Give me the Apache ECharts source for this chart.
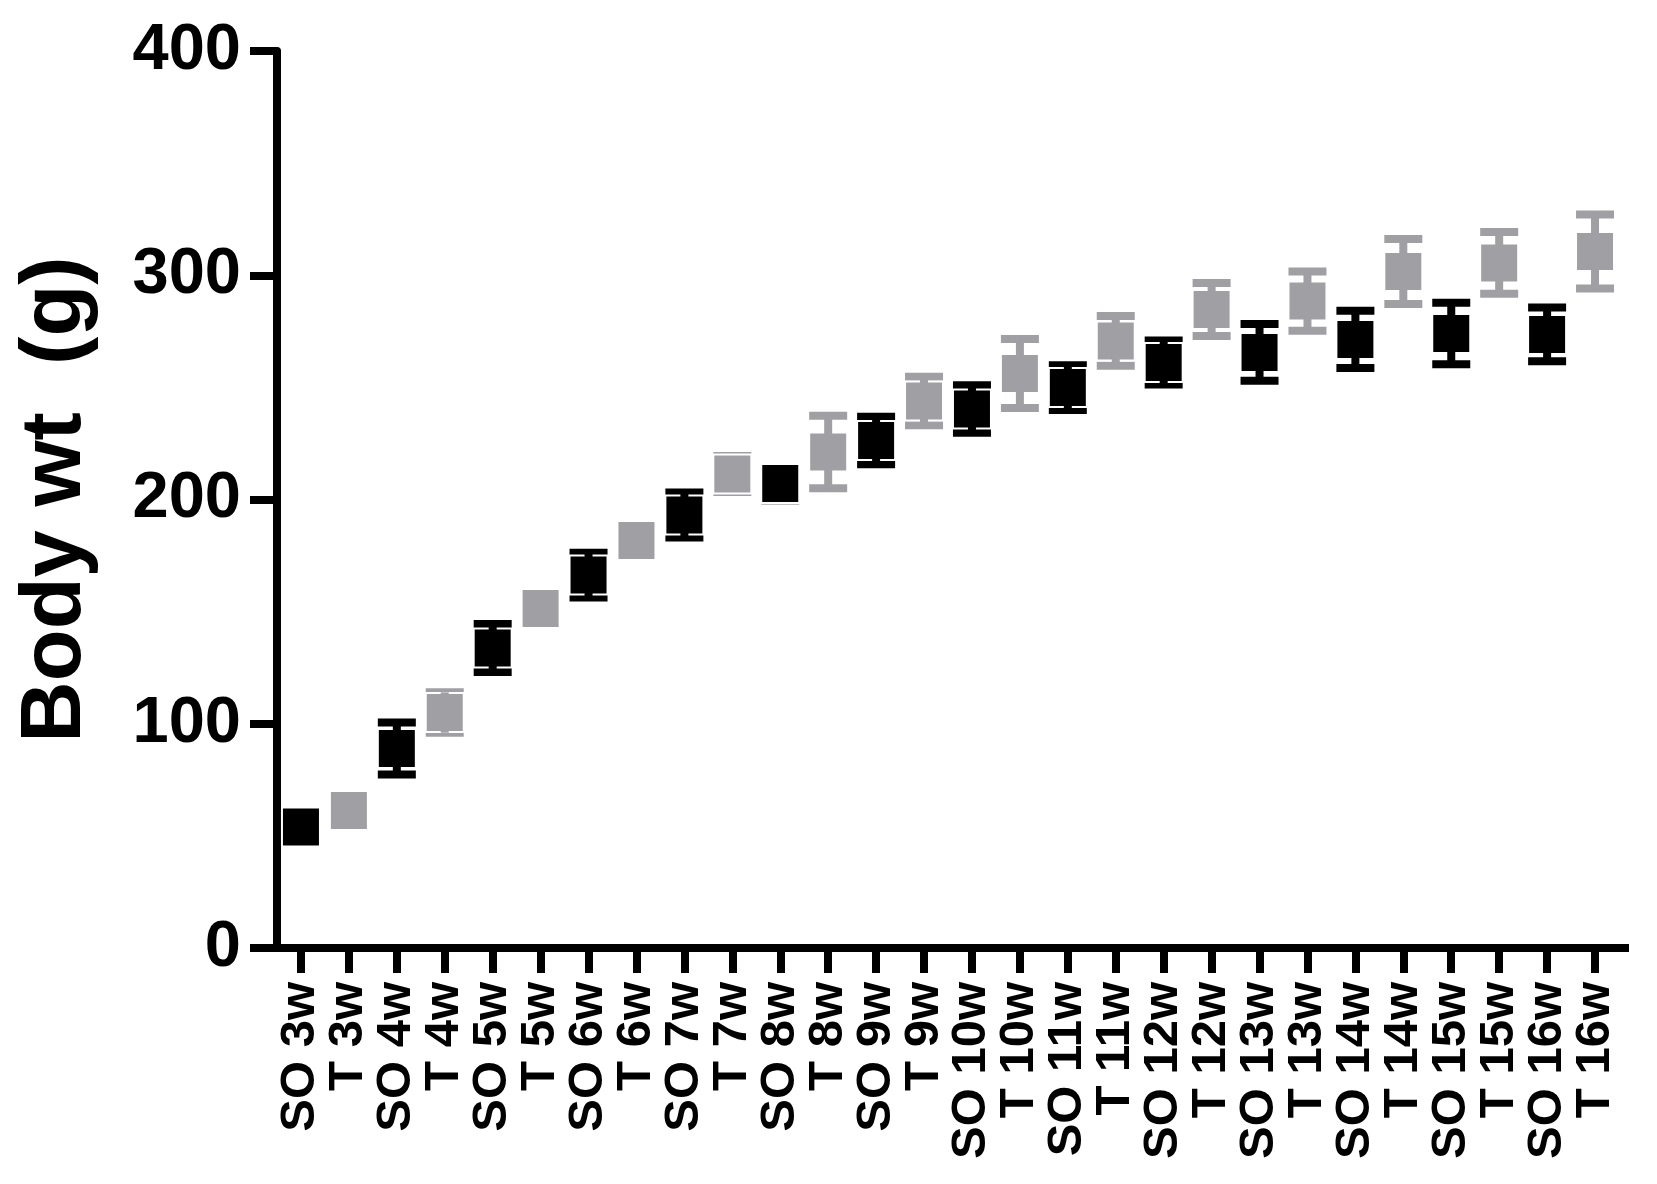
<!DOCTYPE html>
<html>
<head>
<meta charset="utf-8">
<script src="https://cdn.jsdelivr.net/npm/echarts@6/dist/echarts.min.js"></script>
<style>
html,body{margin:0;padding:0;background:#fff;}
#chart{width:1657px;height:1184px;}
</style>
</head>
<body>
<div id="chart"></div>
<script>
// weeks and the two groups (SO / T)
var weeks = [3,4,5,6,7,8,9,10,11,12,13,14,15,16];
var categories = [];
weeks.forEach(function(w){
    categories.push('SO ' + w + 'w');
    categories.push('T ' + w + 'w');
});

var soMean = [54.0, 89.0, 133.8, 166.3, 193.1, 207.1, 226.3, 240.4, 249.9, 261.1, 265.6, 271.4, 274.0, 273.6];
var soSd   = [2, 11.6, 10.7, 10, 10, 7.4, 10.6, 10.6, 10, 9.8, 12.7, 12.8, 13.7, 12.0];
var tMean  = [61.3, 105.0, 151.4, 181.7, 211.4, 221.2, 243.9, 256.2, 270.7, 284.7, 288.5, 301.7, 305.5, 310.6];
var tSd    = [2, 9, 2, 2, 8, 16.2, 10.8, 15.4, 11.1, 11.8, 13.2, 14.5, 13.8, 16.5];

var yTicks = [0, 100, 200, 300, 400];

var BLACK = '#000000',
    GREY = '#a09fa4',
    FONT = '"Liberation Sans", Arial, Helvetica, sans-serif';

function toData(mean, sd, offset){
    return mean.map(function(v, i){
        return [i * 2 + offset, v, sd[i]];
    });
}

// square marker with I-shaped error bar, the box gets a thin white rim
function makeRender(color){
    return function(params, api){
        var x = api.value(0), m = api.value(1), sd = api.value(2);
        var c = api.coord([x, m]);
        var top = api.coord([x, m + sd])[1],
            bot = api.coord([x, m - sd])[1];
        var w = 38, h = 39, cap = 8, stem = 8;
        return {
            type: 'group',
            children: [
                {type: 'rect', shape: {x: c[0] - w/2, y: top - cap/2, width: w, height: cap}, style: {fill: color}},
                {type: 'rect', shape: {x: c[0] - w/2, y: bot - cap/2, width: w, height: cap}, style: {fill: color}},
                {type: 'rect', shape: {x: c[0] - w/2, y: c[1] - h/2, width: w, height: h}, style: {fill: color, stroke: '#fff', lineWidth: 2}},
                {type: 'rect', shape: {x: c[0] - stem/2, y: top, width: stem, height: bot - top}, style: {fill: color}}
            ]
        };
    };
}

var chart = echarts.init(document.getElementById('chart'), null, {renderer: 'canvas'});
chart.setOption({
    backgroundColor: '#fff',
    animation: false,
    grid: {left: 277, right: 38, top: 51, bottom: 236, containLabel: false},
    xAxis: {
        type: 'category',
        data: categories,
        boundaryGap: true,
        axisLine: {show: true, symbol: ['none', 'rect'], symbolSize: [8, 20], lineStyle: {color: BLACK, width: 8}},
        axisTick: {show: true, alignWithLabel: true, length: 25, lineStyle: {color: BLACK, width: 8}},
        axisLabel: {
            interval: 0, rotate: 90, margin: 34,
            color: BLACK, fontSize: 49, fontWeight: 'bold', fontFamily: FONT
        },
        splitLine: {show: false}
    },
    yAxis: {
        type: 'value',
        min: yTicks[0], max: yTicks[yTicks.length - 1], interval: 100,
        name: 'Body wt  (g)',
        nameLocation: 'middle',
        nameGap: 178,
        nameTextStyle: {color: BLACK, fontSize: 85, fontWeight: 'bold', fontFamily: FONT},
        axisLine: {show: true, lineStyle: {color: BLACK, width: 8}},
        axisTick: {show: true, length: 27, lineStyle: {color: BLACK, width: 8}},
        axisLabel: {margin: 36, color: BLACK, fontSize: 65, fontWeight: 'bold', fontFamily: FONT},
        splitLine: {show: false}
    },
    series: [
        {name: 'SO', type: 'custom', renderItem: makeRender(BLACK), data: toData(soMean, soSd, 0), clip: false, z: 3},
        {name: 'T', type: 'custom', renderItem: makeRender(GREY), data: toData(tMean, tSd, 1), clip: false, z: 3}
    ]
});
</script>
</body>
</html>
